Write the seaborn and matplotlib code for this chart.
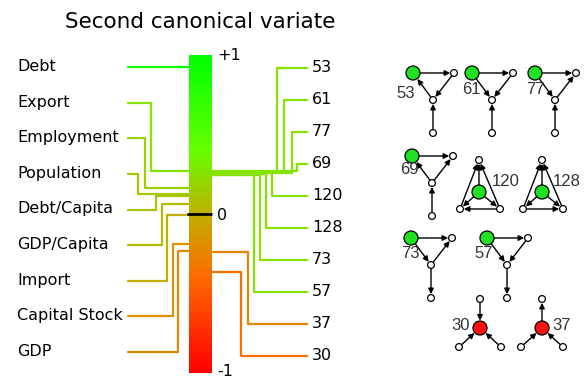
import numpy as np
import pandas as pd
import matplotlib
matplotlib.use("Agg")
import matplotlib.pyplot as plt
import seaborn as sns
from matplotlib.colors import LinearSegmentedColormap
from matplotlib.patches import Circle

# ---------------- data ----------------
variables = ["Debt", "Export", "Employment", "Population", "Debt/Capita",
             "GDP/Capita", "Import", "Capital Stock", "GDP"]
variable_values = [0.925, 0.27, 0.164, 0.126, 0.113, 0.063, -0.006, -0.189, -0.233]

motifs = ["53", "61", "77", "69", "120", "128", "73", "57", "37", "30"]
motif_values = [0.265, 0.262, 0.258, 0.27, 0.255, 0.25, 0.248, 0.245, -0.239, -0.365]

title = "Second canonical variate"
bar_ticks = [1, 0, -1]
bar_tick_labels = ["+1", "0", "-1"]

# ---------------- layout / style ----------------
W, H = 584, 379
Y0, SCALE = 214.0, 159.0          # pixel row of value 0, pixels per unit


def v(pix):
    return (Y0 - pix) / SCALE


PX = 1.0 / SCALE                  # one pixel in value units

cmap = LinearSegmentedColormap.from_list(
    "cv", [(0.0, "#ff0000"), (0.3, "#ff6a00"), (0.5, "#c0b000"),
           (0.7, "#66ff00"), (1.0, "#00ff00")])
norm = plt.Normalize(-1, 1)

left_rows = np.linspace(v(67), v(352), len(variables))
right_rows = np.linspace(v(68), v(356), len(motifs))
left_elbow = [133, 151, 145, 138, 156, 162, 167, 173, 178]
right_elbow = [277, 284, 292, 297, 272, 266, 260, 254, 248, 241]
tick_shift = [-1.0, -1.0, 1.5]    # pixel nudges of the bar labels
BAR_L, BAR_R = 189, 211.5
LEFT_START, RIGHT_END = 128, 307

sns.set_theme(style="white")
plt.rcParams["font.family"] = ["DejaVu Sans"]
plt.rcParams["text.color"] = "black"

fig = plt.figure(figsize=(W / 100, H / 100), dpi=100)
ax = fig.add_axes([0, 0, 390 / W, 1])
ax.set_xlim(0, 390)
ax.set_ylim(v(H), v(0))
ax.axis("off")

# colour bar
grad = np.linspace(1, -1, 400).reshape(-1, 1)
ax.imshow(grad, extent=[BAR_L, BAR_R, -1, 1], cmap=cmap, norm=norm,
          aspect="auto", origin="upper", zorder=2)
ax.plot([187, 212], [0, 0], color="black", lw=2, zorder=4, solid_capstyle="butt")
for t, lab, s in zip(bar_ticks, bar_tick_labels, tick_shift):
    ax.text(217, t + s * PX, lab, fontsize=11.5, ha="left", va="center", color="black")

# connector lines
rows = []
palette = {}
for i, (name, val) in enumerate(zip(variables, variable_values)):
    key = "L_" + name
    palette[key] = cmap(norm(val))
    for k, (x, y) in enumerate([(LEFT_START, left_rows[i]), (left_elbow[i], left_rows[i]),
                                (left_elbow[i], val), (BAR_L, val)]):
        rows.append(dict(key=key, x=x, y=y, order=k))
for i, (name, val) in enumerate(zip(motifs, motif_values)):
    key = "R_" + name
    palette[key] = cmap(norm(val))
    for k, (x, y) in enumerate([(BAR_R, val), (right_elbow[i], val),
                                (right_elbow[i], right_rows[i]), (RIGHT_END, right_rows[i])]):
        rows.append(dict(key=key, x=x, y=y, order=k))
df = pd.DataFrame(rows)
sns.lineplot(data=df, x="x", y="y", hue="key", units="key", estimator=None,
             sort=False, palette=palette, legend=False, lw=1.6, ax=ax, zorder=1)
ax.set_xlabel("")
ax.set_ylabel("")
ax.axis("off")

for i, name in enumerate(variables):
    ax.text(17, left_rows[i] + 0.5 * PX, name, fontsize=11.5, ha="left", va="center",
            color="black")
for i, name in enumerate(motifs):
    ax.text(312, right_rows[i], name, fontsize=11.5, ha="left", va="center",
            color="black")

ax.text(200, v(22), title, fontsize=15.5, ha="center", va="center", color="black")

# ---------------- motif panel ----------------
ax2 = fig.add_axes([390 / W, 0, 194 / W, 1])
ax2.set_xlim(390, 584)
ax2.set_ylim(379, 0)
ax2.axis("off")

tri = {"h": (0, 0), "r": (41, 0), "m": (20, 27), "b": (20, 60)}
star_tall = {"t": (0, -32), "h": (0, 0), "l": (-19, 17), "r": (21, 17)}
star = {"t": (0, -29), "h": (0, 0), "l": (-21, 19), "r": (21, 19)}

motif_layout = {
    "53": (tri, (413, 73), [("h", "r"), ("r", "m"), ("m", "h"), ("b", "m")], (-7, 20)),
    "61": (tri, (472, 73), [("h", "r"), ("h", "m"), ("r", "m"), ("b", "m")], (-1, 17)),
    "77": (tri, (535, 73), [("h", "r"), ("h", "m"), ("m", "r"), ("b", "m")], (0, 17)),
    "69": (tri, (412, 156), [("h", "r"), ("m", "h"), ("m", "r"), ("b", "m")], (-3, 14)),
    "120": (star_tall, (479, 192), [("h", "t"), ("l", "t"), ("r", "t"), ("h", "l"), ("h", "r"), ("r", "l")], (27, -11)),
    "128": (star_tall, (542, 192), [("h", "t"), ("l", "t"), ("r", "t"), ("h", "l"), ("h", "r"), ("l", "r")], (25, -11)),
    "73": (tri, (411, 238), [("h", "r"), ("h", "m"), ("m", "r"), ("m", "b")], (-1, 16)),
    "57": (tri, (487, 238), [("h", "r"), ("h", "m"), ("r", "m"), ("m", "b")], (-3, 16)),
    "30": (star, (480, 328), [("t", "h"), ("l", "h"), ("r", "h")], (-19, -2)),
    "37": (star, (542, 328), [("h", "t"), ("l", "h"), ("r", "h")], (20, -2)),
}
R_BIG, R_SMALL = 7.0, 3.4
for name, val in zip(motifs, motif_values):
    tmpl, (cx, cy), edges, (lx, ly) = motif_layout[name]
    hub_col = "#22e022" if val > 0 else "#ff1010"
    pos = {k: (cx + dx, cy + dy) for k, (dx, dy) in tmpl.items()}
    rad = {k: (R_BIG if k == "h" else R_SMALL) for k in tmpl}
    for a, b in edges:
        ax2.annotate("", xy=pos[b], xytext=pos[a],
                     arrowprops=dict(arrowstyle="-|>", color="black", lw=1.0,
                                     shrinkA=rad[a] * 0.72, shrinkB=rad[b] * 0.72 + 0.3,
                                     mutation_scale=8),
                     zorder=2)
    for k, (x, y) in pos.items():
        ax2.add_patch(Circle((x, y), rad[k], facecolor=hub_col if k == "h" else "white",
                             edgecolor="black", lw=0.9, zorder=3))
    ax2.text(cx + lx, cy + ly, name, fontsize=12, ha="center", va="center",
             family=["Liberation Sans"], color="#333333")

fig.savefig("out.png", dpi=100)
